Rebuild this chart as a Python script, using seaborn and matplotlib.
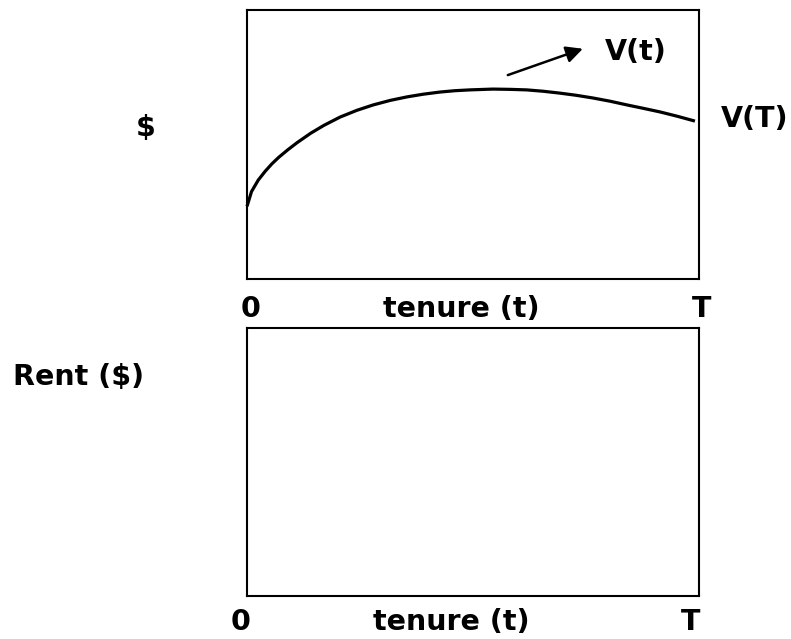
import numpy as np
import pandas as pd
import matplotlib
matplotlib.use("Agg")
import matplotlib.pyplot as plt
import seaborn as sns

# value of the worker over tenure (t as share of T)
tenure = [0.000, 0.010, 0.025, 0.040, 0.055, 0.070, 0.090, 0.111, 0.141,
          0.170, 0.206, 0.243, 0.279, 0.317, 0.354, 0.390, 0.427, 0.460,
          0.493, 0.544, 0.582, 0.619, 0.655, 0.692, 0.728, 0.765, 0.803,
          0.841, 0.878, 0.914, 0.952, 0.991]
value = [0.270, 0.325, 0.368, 0.400, 0.428, 0.452, 0.480, 0.507, 0.542,
         0.571, 0.602, 0.627, 0.647, 0.664, 0.677, 0.687, 0.695, 0.700,
         0.703, 0.706, 0.705, 0.703, 0.698, 0.691, 0.683, 0.673, 0.661,
         0.647, 0.634, 0.621, 0.605, 0.587]

top_label = "$"
bottom_label = "Rent ($)"
x_label = "tenure (t)"
x_ends = ["0", "T"]
curve_label = "V(t)"
end_label = "V(T)"

sns.set_style("white")
plt.rcParams['font.family'] = ['DejaVu Sans']

W, H = 791, 639
fig = plt.figure(figsize=(W / 100, H / 100), dpi=100)

def px_axes(left, top, right, bottom):
    return fig.add_axes([left / W, 1 - bottom / H, (right - left) / W, (bottom - top) / H])

ax1 = px_axes(247, 10, 699, 279)
ax2 = px_axes(247, 328, 699, 596)

df = pd.DataFrame({'t': tenure, 'v': value})
sns.lineplot(data=df, x='t', y='v', ax=ax1, color='black', linewidth=2.3)
ax1.lines[0].set_clip_on(False)
ax1.lines[0].set_solid_joinstyle('round')
ax1.lines[0].set_solid_capstyle('butt')

for ax in (ax1, ax2):
    ax.set_xlim(0, 1)
    ax.set_ylim(0, 1)
    ax.set_xticks([])
    ax.set_yticks([])
    ax.set_xlabel('')
    ax.set_ylabel('')
    for sp in ax.spines.values():
        sp.set_visible(True)
        sp.set_color('black')
        sp.set_linewidth(1.5)

# arrow pointing at V(t)
ax1.annotate('', xy=(0.743, 0.856), xytext=(0.577, 0.758),
             arrowprops=dict(arrowstyle='-|>,head_length=0.5,head_width=0.25',
                             color='black', lw=1.8,
                             mutation_scale=20, shrinkA=0, shrinkB=0))

fs = 20.5
def label(x, y, s):
    fig.text(x / W, 1 - y / H, s, ha='center', va='baseline',
             fontsize=fs, fontweight='bold', color='black')

label(636, 60, curve_label)
label(755, 127, end_label)
label(146, 136, top_label)
label(78.5, 385, bottom_label)

label(251, 317, x_ends[0])
label(461.5, 317, x_label)
label(702, 317, x_ends[1])

label(241, 630, x_ends[0])
label(451.5, 630, x_label)
label(691, 630, x_ends[1])

fig.savefig('out.png', dpi=100)
